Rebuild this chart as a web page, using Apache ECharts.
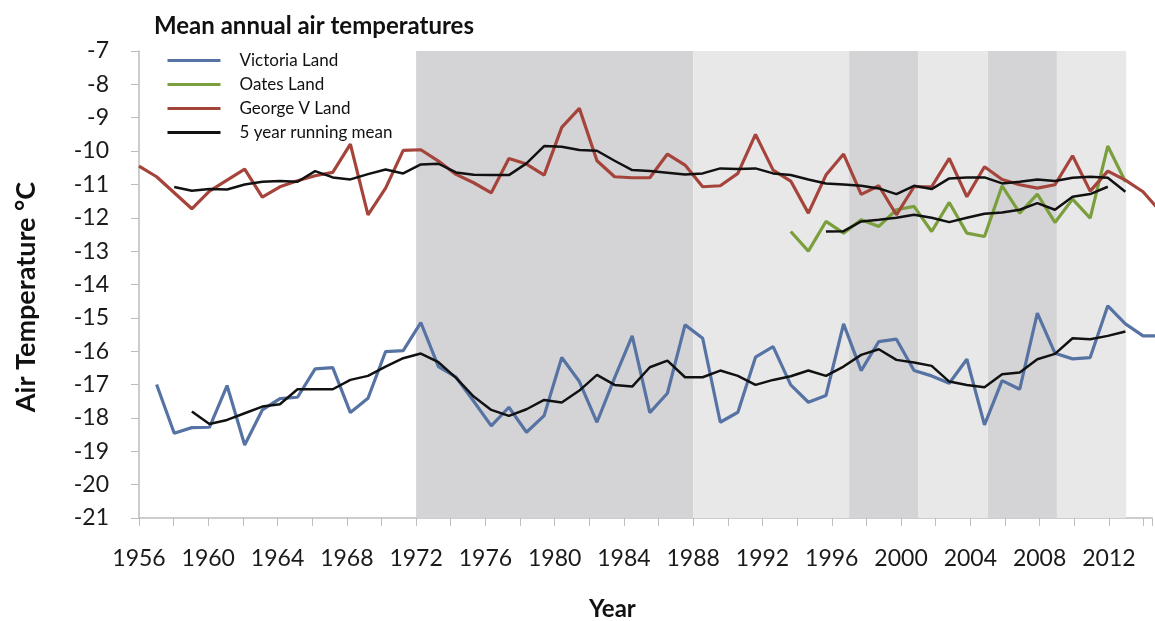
<!DOCTYPE html>
<html lang="en" style="height: 100%">
<head>
  <meta charset="utf-8">
</head>
<body style="height: 100%; margin: 0; background: #fff">
  <div id="container" style="width: 1155px; height: 621px"></div>
  <script type="text/javascript" src="https://cdn.jsdelivr.net/npm/echarts@6/dist/echarts.min.js"></script>

  <script type="text/javascript">
    var dom = document.getElementById('container');
    var myChart = echarts.init(dom, null, { renderer: 'canvas' });

    // annual means, first year given separately
    var victoriaStart = 1957;
    var victoria = [-17.0, -18.46, -18.29, -18.28, -17.03, -18.81, -17.76, -17.42, -17.38, -16.53,
      -16.49, -17.84, -17.41, -16.01, -15.98, -15.14, -16.46, -16.78, -17.5, -18.24,
      -17.68, -18.43, -17.93, -16.19, -16.91, -18.13, -16.8, -15.54, -17.84, -17.26,
      -15.21, -15.61, -18.13, -17.83, -16.18, -15.86, -17.01, -17.53, -17.33, -15.18,
      -16.58, -15.71, -15.64, -16.58, -16.74, -16.96, -16.24, -18.21, -16.88, -17.14,
      -14.86, -16.06, -16.23, -16.19, -14.64, -15.18, -15.54, -15.54];

    var oatesStart = 1993;
    var oates = [-12.41, -13.0, -12.11, -12.46, -12.06, -12.26, -11.76, -11.66, -12.41, -11.54,
      -12.46, -12.56, -11.04, -11.86, -11.29, -12.14, -11.44, -12.01, -9.85, -10.92];

    var georgeStart = 1956;
    var george = [-10.45, -10.77, -11.25, -11.73, -11.2, -10.87, -10.54, -11.38, -11.07, -10.89,
      -10.74, -10.64, -9.79, -11.91, -11.11, -9.98, -9.96, -10.3, -10.7, -10.95,
      -11.25, -10.22, -10.39, -10.72, -9.29, -8.72, -10.29, -10.77, -10.8, -10.8,
      -10.09, -10.42, -11.07, -11.04, -10.67, -9.5, -10.57, -10.9, -11.86, -10.72,
      -10.09, -11.3, -11.04, -11.91, -11.07, -11.07, -10.22, -11.37, -10.47, -10.85,
      -11.01, -11.11, -11.01, -10.14, -11.2, -10.6, -10.87, -11.22, -11.82];

    // 5 year running means
    var meanGeorgeStart = 1958;
    var meanGeorge = [-11.08, -11.19, -11.14, -11.15, -11.0, -10.92, -10.9, -10.92, -10.6, -10.79,
      -10.85, -10.69, -10.55, -10.67, -10.4, -10.38, -10.64, -10.71, -10.72, -10.72,
      -10.37, -9.85, -9.87, -9.97, -9.99, -10.29, -10.57, -10.6, -10.65, -10.7,
      -10.67, -10.52, -10.54, -10.52, -10.67, -10.72, -10.85, -10.97, -11.0, -11.04,
      -11.12, -11.29, -11.04, -11.14, -10.82, -10.79, -10.79, -10.97, -10.92, -10.85,
      -10.9, -10.8, -10.77, -10.8, -11.22];

    var meanVictoriaStart = 1959;
    var meanVictoria = [-17.81, -18.18, -18.06, -17.86, -17.66, -17.59, -17.14, -17.14, -17.14, -16.86,
      -16.74, -16.46, -16.21, -16.07, -16.33, -16.8, -17.36, -17.76, -17.94, -17.74,
      -17.46, -17.54, -17.18, -16.71, -17.01, -17.06, -16.48, -16.28, -16.78, -16.78,
      -16.58, -16.74, -17.01, -16.86, -16.75, -16.58, -16.74, -16.46, -16.11, -15.94,
      -16.26, -16.34, -16.44, -16.91, -17.01, -17.08, -16.69, -16.64, -16.24, -16.08,
      -15.61, -15.64, -15.54, -15.41];

    var meanOatesStart = 1995;
    var meanOates = [-12.41, -12.4, -12.11, -12.06, -12.0, -11.91, -12.0, -12.13, -12.0, -11.88,
      -11.84, -11.76, -11.56, -11.76, -11.37, -11.29, -11.07];

    // shaded periods
    var darkBands = [[1972, 1988], [1997, 2001], [2005, 2009]];
    var lightBands = [[1988, 1997], [2001, 2005], [2009, 2013]];

    var fontFamily = 'Lato, "Open Sans", sans-serif';

    function pairs(start, values) {
      return values.map(function (v, i) { return [start + i, v]; });
    }

    function bandAreas(list, color) {
      return list.map(function (b) {
        return [{ xAxis: b[0], itemStyle: { color: color } }, { xAxis: b[1] }];
      });
    }

    function lineSeries(name, start, values, color, width) {
      return {
        name: name,
        type: 'line',
        xAxisIndex: 1,
        data: pairs(start, values),
        symbol: 'none',
        color: color,
        lineStyle: { color: color, width: width },
        silent: true,
        z: 3
      };
    }

    var option = {
      animation: false,
      textStyle: { fontFamily: fontFamily },
      title: [
        {
          text: 'Mean annual air temperatures',
          left: 149,
          top: 9,
          textStyle: { fontFamily: fontFamily, fontSize: 24, fontWeight: 'bold', color: '#111' }
        },
        {
          text: 'Year',
          left: 584,
          top: 592,
          textStyle: { fontFamily: fontFamily, fontSize: 24, fontWeight: 'bold', color: '#111' }
        }
      ],
      graphic: [
        {
          type: 'text',
          x: 26,
          y: 297,
          rotation: Math.PI / 2,
          silent: true,
          style: {
            text: 'Air Temperature °C',
            fontFamily: fontFamily,
            fontSize: 27,
            fontWeight: 'bold',
            fill: '#111',
            align: 'center',
            verticalAlign: 'middle'
          }
        }
      ],
      legend: {
        orient: 'vertical',
        left: 166,
        top: 52,
        padding: 0,
        itemWidth: 53,
        itemHeight: 15,
        itemGap: 7,
        itemStyle: { opacity: 0 },
        lineStyle: { width: 3 },
        data: ['Victoria Land', 'Oates Land', 'George V Land', '5 year running mean'],
        textStyle: { fontFamily: fontFamily, fontSize: 17, color: '#111', padding: [0, 0, 0, 14] }
      },
      grid: { left: 139, right: 0, top: 51, bottom: 103 },
      xAxis: [
        {
          type: 'value',
          min: 1956,
          max: 2014.49,
          interval: 2,
          axisLine: { lineStyle: { color: '#bdbdbd', width: 1.5 } },
          axisTick: { length: 8, lineStyle: { color: '#bdbdbd' } },
          splitLine: { show: false },
          axisLabel: {
            margin: 29,
            fontSize: 23,
            color: '#1a1a1a',
            fontFamily: fontFamily,
            formatter: function (v) { return v % 4 === 0 ? String(v) : ''; }
          }
        },
        {
          type: 'value',
          min: 1956,
          max: 2013.51,
          show: false
        }
      ],
      yAxis: {
        type: 'value',
        min: -21,
        max: -7,
        interval: 1,
        axisLine: { show: true, lineStyle: { color: '#bdbdbd', width: 1.5 } },
        axisTick: { show: true, length: 8, lineStyle: { color: '#bdbdbd' } },
        splitLine: { show: false },
        axisLabel: { margin: 30, fontSize: 23, color: '#1a1a1a', fontFamily: fontFamily }
      },
      series: [
        {
          name: 'periods',
          type: 'line',
          xAxisIndex: 0,
          data: [],
          silent: true,
          z: 1,
          markArea: {
            silent: true,
            data: bandAreas(darkBands, '#d4d4d6').concat(bandAreas(lightBands, '#e8e8e9'))
          }
        },
        lineSeries('Victoria Land', victoriaStart, victoria, '#5673a3', 3.2),
        lineSeries('Oates Land', oatesStart, oates, '#7a9f3c', 3.2),
        lineSeries('George V Land', georgeStart, george, '#a5443b', 3.2),
        lineSeries('5 year running mean', meanGeorgeStart, meanGeorge, '#111111', 2.5),
        lineSeries('5 year running mean', meanVictoriaStart, meanVictoria, '#111111', 2.5),
        lineSeries('5 year running mean', meanOatesStart, meanOates, '#111111', 2.5)
      ]
    };

    myChart.setOption(option);
    window.addEventListener('resize', myChart.resize);
  </script>
</body>
</html>
